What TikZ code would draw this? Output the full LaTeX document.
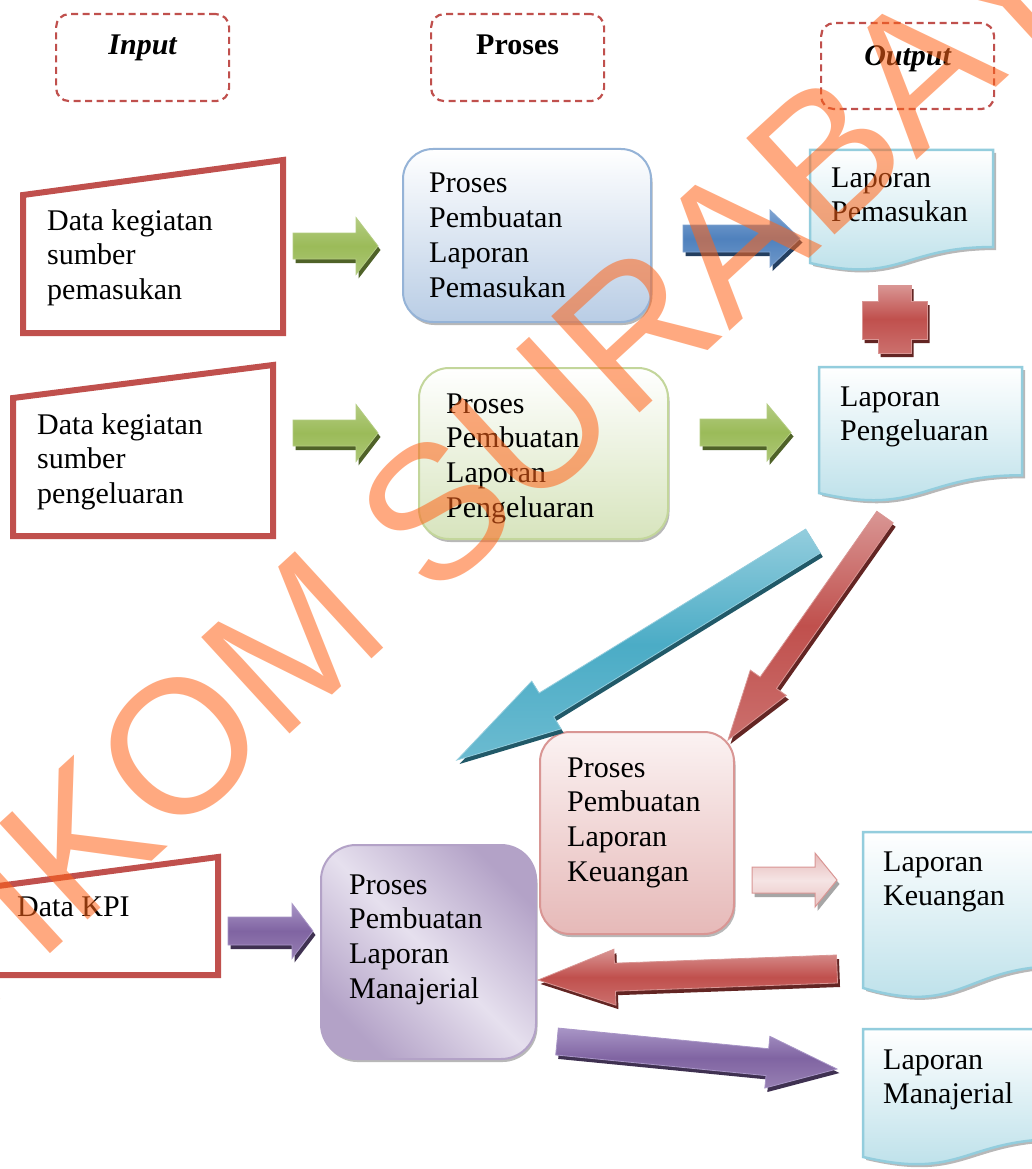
\documentclass[tikz,border=0pt]{standalone}
\usepackage{fontspec}
\setmainfont{Liberation Serif}
\newfontfamily\wmfont{Liberation Sans}
\usetikzlibrary{calc,shadows}
\definecolor{redA}{HTML}{C0504D}
\definecolor{redL}{HTML}{D99694}
\definecolor{redD}{HTML}{632523}
\definecolor{grnA}{HTML}{9BBB59}
\definecolor{grnL}{HTML}{B4CC82}
\definecolor{grnD}{HTML}{4F6228}
\definecolor{bluA}{HTML}{4F81BD}
\definecolor{bluL}{HTML}{7FA3D1}
\definecolor{bluD}{HTML}{243F60}
\definecolor{tealA}{HTML}{4BACC6}
\definecolor{tealL}{HTML}{93CDDD}
\definecolor{tealD}{HTML}{215968}
\definecolor{purA}{HTML}{8064A2}
\definecolor{purL}{HTML}{A895C6}
\definecolor{purD}{HTML}{3F3151}
\definecolor{pinkA}{HTML}{F5E4E4}
\definecolor{pinkB}{HTML}{E6B9B8}
\definecolor{pinkT}{HTML}{FBF2F2}
\definecolor{boxBlueB}{HTML}{B9CDE5}
\definecolor{boxBlueE}{HTML}{95B3D7}
\definecolor{boxGrnB}{HTML}{D7E4BD}
\definecolor{boxGrnE}{HTML}{C3D69B}
\definecolor{boxPurL}{HTML}{E6E0EE}
\definecolor{boxPurD}{HTML}{B3A2C7}
\definecolor{docB}{HTML}{B7DEE8}
\definecolor{docE}{HTML}{93CDDD}
\definecolor{wmc}{RGB}{255,100,24}

\newcommand\mlines[1]{\begin{tabular}[t]{@{}l@{}}#1\end{tabular}}
% block arrow: #1 tail, #2 tip, #3 half shaft, #4 half head, #5 head length, #6 style
\newcommand\blockarrow[6]{%
  \coordinate (#1-hb) at ($(#2)!#5!(#1)$);
  \path[#6] ($(#1)!#3!90:(#2)$) -- ($(#1-hb)!#3!90:(#2)$) -- ($(#1-hb)!#4!90:(#2)$) -- (#2)
     -- ($(#1-hb)!#4!-90:(#2)$) -- ($(#1-hb)!#3!-90:(#2)$) -- ($(#1)!#3!-90:(#2)$) -- cycle;}
% document shape: #1 name, #2 x, #3 y, #4 width, #5 height
\newcommand\docshape[5]{%
  \coordinate (#1) at (#2,#3);
  \path[docsh] (#1) -- ($(#1)+(#4,0)$) -- ($(#1)+(#4,{0.802*#5})$)
    .. controls ($(#1)+({0.5*#4},{0.802*#5})$) and ($(#1)+({0.5*#4},{1.107*#5})$) .. ($(#1)+(0,{0.934*#5})$) -- cycle;}

\tikzset{
  hdrbox/.style={draw=redA, line width=2.2pt, dash pattern=on 7pt off 4.5pt, rounded corners=13pt,
    minimum width=173pt, minimum height=87pt, anchor=north west, inner sep=0},
  hdrtxt/.style={font=\fontsize{30}{34.7}\selectfont\bfseries, anchor=base, inner sep=0},
  hdrtxti/.style={font=\fontsize{30}{34.7}\selectfont\bfseries\itshape, anchor=base, inner sep=0},
  inbox/.style={draw=redA, line width=6pt, fill=white, line join=miter},
  txt/.style={font=\fontsize{30}{34.7}\selectfont, anchor=base west, inner sep=0},
  procbox/.style={line width=2pt, rounded corners=30pt, anchor=north west, inner sep=0,
    general shadow={fill=black!28, shadow xshift=1.5pt, shadow yshift=-3pt}},
  docsh/.style={draw=docE, line width=2.5pt, top color=white, bottom color=docB,
    general shadow={fill=black!28, shadow xshift=3pt, shadow yshift=-3pt}},
  arr/.style n args={3}{top color=#2, bottom color=#1!82!white, middle color=#1, draw=#2, line width=0.8pt,
    general shadow={fill=#3, shadow xshift=2.5pt, shadow yshift=-4pt}},
  pinkarr/.style={top color=pinkB, bottom color=pinkB!85!white, middle color=pinkA, draw=redL, line width=1pt,
    general shadow={fill=black!35, shadow xshift=2.5pt, shadow yshift=-4pt}},
  wm/.style={font=\wmfont\fontsize{190}{200}\selectfont, text=wmc, text opacity=0.55, rotate=42.5,
    anchor=base west, inner sep=0},
}

\begin{document}
\begin{tikzpicture}[x=1pt, y=-1pt]
\useasboundingbox (0,0) rectangle (1031,1169);
\fill[white] (0,0) rectangle (1031,1169);

% headers
\node[hdrbox] (hin) at (55,13) {};
\node[hdrtxti] (hinT) at ($(hin.north)+(0,42)$) {Input};
\node[hdrbox] (hpr) at (430,13) {};
\node[hdrtxt] (hprT) at ($(hpr.north)+(0,42)$) {Proses};
\node[hdrbox, minimum height=86pt] (hout) at (820,22) {};
\node[hdrtxti] (houtT) at ($(hout.north)+(0,44)$) {Output};

% input boxes
\path[inbox] (23,195) -- (283,160) -- (283,333) -- (23,333) -- cycle;
\node[txt] (in1) at (47,230) {\mlines{Data kegiatan\\sumber\\pemasukan}};
\path[inbox] (13,398) -- (273,365) -- (273,536) -- (13,536) -- cycle;
\node[txt] (in2) at (37,434) {\mlines{Data kegiatan\\sumber\\pengeluaran}};
\path[inbox] (-40,891) -- (218,857) -- (218,975) -- (-40,975) -- cycle;
\node[txt] (in3) at (17,916) {Data KPI};

% process boxes
\node[procbox, draw=boxBlueE, top color=white, bottom color=boxBlueB,
  minimum width=248pt, minimum height=173pt] (p1) at (402,148) {};
\node[txt] (p1t) at ($(p1.north west)+(27,45)$) {\mlines{Proses\\Pembuatan\\Laporan\\Pemasukan}};
\node[procbox, draw=boxGrnE, top color=white, bottom color=boxGrnB,
  minimum width=249pt, minimum height=171pt] (p2) at (418,367) {};
\node[txt] (p2t) at ($(p2.north west)+(28,46)$) {\mlines{Proses\\Pembuatan\\Laporan\\Pengeluaran}};
\node[procbox, draw=redL, top color=pinkT, bottom color=pinkB,
  minimum width=194pt, minimum height=202pt] (p3) at (539,731) {};
\node[txt] (p3t) at ($(p3.north west)+(28,46)$) {\mlines{Proses\\Pembuatan\\Laporan\\Keuangan}};
\node[procbox, draw=boxPurD, rounded corners=35pt, top color=boxPurD, bottom color=boxPurD, middle color=boxPurL,
  shading angle=-45, minimum width=215pt, minimum height=214pt] (p4) at (320,844) {};
\node[txt] (p4t) at ($(p4.north west)+(29,50)$) {\mlines{Proses\\Pembuatan\\Laporan\\Manajerial}};

% documents
\docshape{d1}{810}{150}{183}{121}
\node[txt] (d1t) at ($(d1)+(21,37)$) {\mlines{Laporan\\Pemasukan}};
\docshape{d2}{819}{367}{203}{135}
\node[txt] (d2t) at ($(d2)+(21,39)$) {\mlines{Laporan\\Pengeluaran}};
\docshape{d3}{863}{832}{200}{167}
\node[txt] (d3t) at ($(d3)+(20,39)$) {\mlines{Laporan\\Keuangan}};
\docshape{d4}{863}{1029}{200}{137}
\node[txt] (d4t) at ($(d4)+(20,40)$) {\mlines{Laporan\\Manajerial}};

% plus sign
\coordinate (plus) at (894.5,319);
\path[arr={redA}{redL}{redD}] ($(plus)+(-16.5,-34)$) -- ++(33,0) -- ++(0,16) -- ++(16,0) -- ++(0,38)
  -- ++(-16,0) -- ++(0,14) -- ++(-33,0) -- ++(0,-14) -- ++(-16,0) -- ++(0,-38) -- ++(16,0) -- cycle;

% arrow end points
\coordinate (ga1) at (293,246);   \coordinate (ga1e) at (378,246);
\coordinate (ga2) at (293,433);   \coordinate (ga2e) at (378,433);
\coordinate (ba1) at (683,238.5); \coordinate (ba1e) at (800,238.5);
\coordinate (ga3) at (700,432.5); \coordinate (ga3e) at (791,432.5);
\coordinate (ta)  at (813,541);   \coordinate (tae)  at (457,760);
\coordinate (ra)  at (885,517);   \coordinate (rae)  at (728,740);
\coordinate (pk)  at (752,880);   \coordinate (pke)  at (837,880);
\coordinate (rh)  at (837,969);   \coordinate (rhe)  at (538,980);
\coordinate (pb)  at (557,1041.5);\coordinate (pbe)  at (837,1069);
\coordinate (ps)  at (228,931);   \coordinate (pse)  at (313,931);

\blockarrow{ga1}{ga1e}{13pt}{28.5pt}{22pt}{arr={grnA}{grnL}{grnD}}
\blockarrow{ga2}{ga2e}{13pt}{28.5pt}{22pt}{arr={grnA}{grnL}{grnD}}
\blockarrow{ba1}{ba1e}{13.5pt}{28.5pt}{30pt}{arr={bluA}{bluL}{bluD}}
\blockarrow{ga3}{ga3e}{13.5pt}{28.5pt}{24pt}{arr={grnA}{grnL}{grnD}}
\blockarrow{ta}{tae}{14pt}{28pt}{105pt}{arr={tealA}{tealL}{tealD}}
\blockarrow{ra}{rae}{10pt}{22pt}{70pt}{arr={redA}{redL}{redD}}
\blockarrow{pk}{pke}{13pt}{27pt}{22pt}{pinkarr}
\blockarrow{rh}{rhe}{14pt}{28pt}{77pt}{arr={redA}{redL}{redD}}
\blockarrow{pb}{pbe}{13.5pt}{26pt}{70pt}{arr={purA}{purL}{purD}}
\blockarrow{ps}{pse}{14pt}{27.5pt}{21pt}{arr={purA}{purL}{purD}}

% watermark
\node[wm] (wm) at (-142,1130) {STIKOM SURABAYA};
\end{tikzpicture}
\end{document}
